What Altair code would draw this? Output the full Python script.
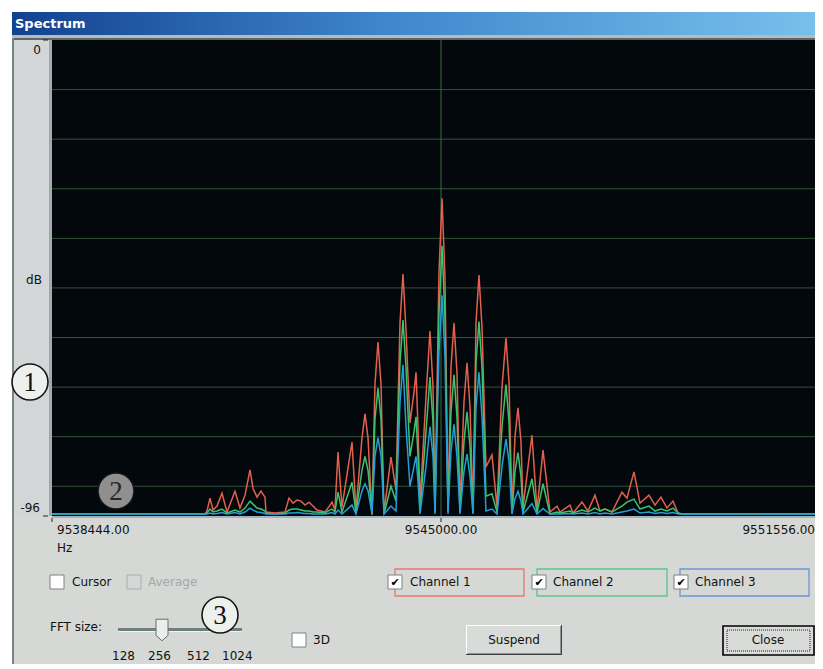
import altair as alt
import pandas as pd

# ---------------- data ----------------
freq_hz = [9538444, 9541022, 9541056, 9541107, 9541157, 9541225, 9541309, 9541393,
           9541528, 9541612, 9541697, 9541781, 9541831, 9541899, 9541966, 9542034,
           9542050, 9542202, 9542371, 9542438, 9542506, 9542573, 9542640, 9542708,
           9542775, 9542843, 9542910, 9543045, 9543095, 9543163, 9543213, 9543264,
           9543331, 9543500, 9543567, 9543668, 9543719, 9543770, 9543837, 9543887,
           9543938, 9543989, 9544039, 9544157, 9544241, 9544309, 9544359, 9544410,
           9544477, 9544545, 9544579, 9544612, 9544646, 9544747, 9544814, 9544865,
           9544899, 9544966, 9545017, 9545067, 9545118, 9545168, 9545219, 9545269,
           9545320, 9545387, 9545438, 9545489, 9545539, 9545590, 9545640, 9545691,
           9545758, 9545859, 9545944, 9546028, 9546095, 9546146, 9546196, 9546247,
           9546297, 9546348, 9546382, 9546533, 9546618, 9546719, 9546837, 9546955,
           9547005, 9547174, 9547224, 9547376, 9547477, 9547595, 9547679, 9547764,
           9547882, 9548050, 9548134, 9548252, 9548354, 9548505, 9548606, 9548707,
           9548809, 9548910, 9548994, 9549061, 9551556]

ch1_db = [-95.6, -95.6, -95.0, -92.4, -94.8, -94.0, -91.4, -95.2,
          -91.0, -94.4, -91.8, -86.7, -90.4, -92.2, -91.0, -92.2,
          -95.2, -95.4, -95.2, -92.4, -93.4, -92.8, -93.0, -93.8,
          -93.2, -94.0, -94.8, -95.2, -94.4, -93.2, -94.8, -83.1,
          -94.2, -81.1, -94.8, -80.3, -75.4, -80.3, -95.8, -69.4,
          -60.9, -69.4, -95.4, -84.1, -90.8, -57.0, -47.2, -58.5,
          -77.2, -71.0, -67.0, -78.0, -93.4, -72.0, -58.7, -70.0,
          -94.2, -47.0, -31.9, -48.0, -94.2, -66.0, -57.1, -67.0,
          -94.2, -73.0, -65.1, -74.0, -94.8, -57.0, -47.4, -58.0,
          -86.1, -83.7, -94.2, -70.0, -60.1, -69.0, -94.8, -80.0,
          -74.2, -81.0, -94.2, -79.7, -94.8, -82.7, -95.2, -94.0,
          -95.2, -93.8, -95.4, -93.2, -95.0, -91.8, -95.0, -94.6,
          -95.2, -91.2, -92.4, -87.1, -93.4, -91.8, -93.8, -92.2,
          -94.4, -93.0, -95.4, -95.6, -95.6]

ch2_db = [-95.6, -95.6, -95.4, -94.6, -95.2, -95.0, -94.6, -95.4,
          -94.8, -95.2, -94.4, -93.0, -93.6, -94.4, -94.6, -95.0,
          -95.4, -95.6, -95.4, -94.8, -94.6, -94.6, -94.8, -95.0,
          -95.0, -95.2, -95.2, -95.4, -95.0, -94.6, -95.2, -91.2,
          -95.2, -89.2, -95.4, -86.8, -84.0, -86.8, -95.6, -76.4,
          -70.2, -76.4, -95.6, -90.0, -93.0, -65.0, -56.5, -66.0,
          -84.0, -79.0, -76.0, -84.0, -95.0, -79.0, -68.0, -77.0,
          -95.2, -55.0, -41.5, -56.0, -95.2, -75.0, -67.5, -76.0,
          -95.2, -81.0, -75.0, -82.0, -95.4, -65.0, -56.8, -66.0,
          -92.0, -91.5, -95.2, -78.0, -69.5, -77.0, -95.4, -87.0,
          -83.2, -88.0, -95.2, -88.5, -95.4, -89.5, -95.6, -95.2,
          -95.4, -95.0, -95.4, -94.8, -95.2, -94.4, -95.0, -94.6,
          -95.2, -94.0, -93.2, -92.6, -94.6, -94.0, -95.0, -94.6,
          -95.0, -94.4, -95.4, -95.6, -95.6]

ch3_db = [-95.6, -95.6, -95.6, -95.4, -95.6, -95.5, -95.3, -95.6,
          -95.3, -95.6, -95.2, -94.4, -94.8, -95.2, -95.3, -95.5,
          -95.6, -95.6, -95.6, -95.4, -95.4, -95.3, -95.4, -95.5,
          -95.5, -95.6, -95.6, -95.6, -95.5, -95.3, -95.6, -94.8,
          -95.6, -93.8, -95.6, -90.9, -89.5, -90.9, -95.6, -83.9,
          -80.2, -83.9, -95.6, -94.0, -95.0, -73.0, -65.5, -78.0,
          -90.0, -86.0, -84.0, -89.0, -95.6, -86.0, -78.0, -84.0,
          -95.6, -63.0, -51.5, -64.0, -95.6, -83.0, -77.5, -84.0,
          -95.6, -87.0, -83.5, -88.0, -95.6, -74.0, -67.0, -76.0,
          -95.0, -94.6, -95.6, -86.0, -80.5, -85.0, -95.6, -92.5,
          -91.0, -93.0, -95.6, -93.5, -95.6, -94.5, -95.6, -95.6,
          -95.6, -95.5, -95.6, -95.4, -95.6, -95.3, -95.6, -95.4,
          -95.6, -95.2, -95.0, -94.6, -95.4, -95.2, -95.5, -95.3,
          -95.5, -95.3, -95.6, -95.6, -95.6]

grid_db = [-10, -20, -30, -40, -50, -60, -70, -80, -90]
center_hz = [9545000]
x_tick_hz = [9538444, 9545000, 9551556]
x_tick_labels = ["9538444.00", "9545000.00", "9551556.00"]
y_tick_db = [0, -96]
y_tick_labels = ["0", "-96"]
channel_names = ["Channel 1", "Channel 2", "Channel 3"]
fft_sizes = ["128", "256", "512", "1024"]

# ---------------- styles / layout ----------------
W, H = 763, 476
X_MIN, X_MAX = 9538444, 9551303
FONT = "DejaVu Sans"
GREY = "#d5d8d5"
LINE_COLORS = ["#e2604e", "#3cc46c", "#249ed8"]
FRAME_COLORS = ["#e27a6a", "#5cc486", "#6c96d2"]

xs = alt.Scale(domain=[X_MIN, X_MAX], nice=False, zero=False)
ys = alt.Scale(domain=[-96, 0], nice=False, zero=False)
one = pd.DataFrame({"k": [0]})


def rect(x, x2, y, y2, fill=None, stroke=None, sw=1.0, dash=None):
    kw = {}
    if fill is not None:
        kw["fill"] = fill
    else:
        kw["fillOpacity"] = 0
    if stroke is not None:
        kw["stroke"] = stroke
        kw["strokeWidth"] = sw
    if dash is not None:
        kw["strokeDash"] = dash
    return alt.Chart(one).mark_rect(**kw).encode(
        x=alt.value(x), x2=alt.value(x2), y=alt.value(y), y2=alt.value(y2))


def rule(x, x2, y, y2, color, sw=1.0):
    return alt.Chart(one).mark_rule(color=color, strokeWidth=sw).encode(
        x=alt.value(x), x2=alt.value(x2), y=alt.value(y), y2=alt.value(y2))


def label(text, x, y, size=12, color="#111111", align="left", font=FONT, weight="normal"):
    return alt.Chart(one).mark_text(
        text=text, align=align, baseline="middle", fontSize=size, font=font,
        color=color, fontWeight=weight).encode(x=alt.value(x), y=alt.value(y))


def circle(cx, cy, fill, num, txt_color="#111111"):
    c = alt.Chart(one).mark_point(
        shape="circle", size=1296, filled=True, fill=fill, stroke="#151515",
        strokeWidth=1.6, opacity=1).encode(x=alt.value(cx), y=alt.value(cy))
    t = label(num, cx, cy + 1, size=27, color=txt_color, align="center",
              font="Liberation Serif")
    return [c, t]


def checkbox(x, y, checked=True, enabled=True):
    out = [rect(x, x + 14, y, y + 14, fill="#ffffff" if enabled else GREY,
                stroke="#7b8282" if enabled else "#a9aeae")]
    if checked:
        out.append(label("\u2714", x + 7, y + 7.5, size=11, color="#000000", align="center"))
    return out


layers = []
# window chrome
layers.append(rect(-40, 790, -28, 660, fill=GREY))
layers.append(rect(-40, -38, -5, 660, fill="#7a8383"))
layers.append(alt.Chart(one).mark_rect(fill={
    "gradient": "linear", "x1": 0, "x2": 1, "y1": 0, "y2": 0,
    "stops": [{"offset": 0, "color": "#12418f"}, {"offset": 0.45, "color": "#3f86cc"},
              {"offset": 1, "color": "#7cc3ee"}]}).encode(
    x=alt.value(-40), x2=alt.value(790), y=alt.value(-28), y2=alt.value(-5)))
layers.append(label("Spectrum", -37, -16, size=13, color="#ffffff", weight="bold"))
layers.append(rect(-40, 790, -5, -2, fill="#b4bcbc"))
layers.append(rect(-38, 790, -2, 0, fill="#5d6767"))
layers.append(rect(-38, -3, 0, 476, fill="#d2d6d6"))
layers.append(rect(-3, 0, 0, 476, fill="#a2aaaa"))
# plot area
layers.append(rect(0, 790, 0, 476, fill="#02080b"))
layers.append(rect(0, 790, 476, 478, fill="#9fb4bf"))

grid_df = pd.DataFrame({"db": grid_db})
layers.append(alt.Chart(grid_df).mark_rule(color="#34523a", strokeWidth=1).encode(
    y=alt.Y("db:Q", scale=ys, axis=None), x=alt.value(0), x2=alt.value(790)))
layers.append(alt.Chart(pd.DataFrame({"hz": center_hz})).mark_rule(
    color="#3e6a3e", strokeWidth=1).encode(
    x=alt.X("hz:Q", scale=xs, axis=None), y=alt.value(0), y2=alt.value(476)))

for name, vals, col in zip(channel_names, [ch1_db, ch2_db, ch3_db], LINE_COLORS):
    df = pd.DataFrame({"hz": freq_hz, "db": vals, "channel": name})
    layers.append(alt.Chart(df).mark_line(color=col, strokeWidth=1.5, clip=True).encode(
        x=alt.X("hz:Q", scale=xs, axis=None),
        y=alt.Y("db:Q", scale=ys, axis=None),
        order="hz:Q"))

# y axis labels and ticks
ytick_df = pd.DataFrame({"db": y_tick_db, "label": y_tick_labels})
layers.append(alt.Chart(ytick_df).mark_rule(color="#222222").encode(
    y=alt.Y("db:Q", scale=ys, axis=None), x=alt.value(-9), x2=alt.value(-4)))
layers.append(alt.Chart(ytick_df[ytick_df.db == 0]).mark_text(
    align="right", baseline="middle", dy=10, fontSize=12, font=FONT, color="#111111").encode(
    y=alt.Y("db:Q", scale=ys, axis=None), x=alt.value(-11), text="label:N"))
layers.append(alt.Chart(ytick_df[ytick_df.db == -96]).mark_text(
    align="right", baseline="middle", dy=-8, fontSize=12, font=FONT, color="#111111").encode(
    y=alt.Y("db:Q", scale=ys, axis=None), x=alt.value(-12), text="label:N"))
layers.append(label("dB", -18, 240, size=12, align="center"))

# x axis labels and ticks
xtick_df = pd.DataFrame({"hz": x_tick_hz, "label": x_tick_labels})
layers.append(alt.Chart(xtick_df.iloc[:2]).mark_rule(color="#222222").encode(
    x=alt.X("hz:Q", scale=xs, axis=None), y=alt.value(478), y2=alt.value(482)))
for i, (al, dx) in enumerate([("left", 5), ("center", 0), ("right", -15)]):
    layers.append(alt.Chart(xtick_df.iloc[[i]]).mark_text(
        align=al, baseline="middle", dx=dx, fontSize=12, font=FONT, color="#111111").encode(
        x=alt.X("hz:Q", scale=xs, axis=None), y=alt.value(490), text="label:N"))
layers.append(label("Hz", 5, 508))

# numbered callouts
layers += circle(-22, 342, "#eef0ee", "1")
layers += circle(64, 451, "#8e8f8e", "2", txt_color="#262626")

# check boxes
layers += checkbox(-2, 535, checked=False)
layers.append(label("Cursor", 20, 542))
layers += checkbox(75, 535, checked=False, enabled=False)
layers.append(label("Average", 96, 542, color="#a4a9a9"))

frames = [(343, 472, 336, 358), (485, 615, 480, 501), (628, 757, 622, 643)]
for (fx, fx2, bx, lx), fc, name in zip(frames, FRAME_COLORS, channel_names):
    layers.append(rect(fx, fx2, 529, 556, stroke=fc, sw=1.3))
    layers += checkbox(bx, 535, checked=True)
    layers.append(label(name, lx, 542))

# FFT slider
layers.append(label("FFT size:", -2, 587))
layers.append(rect(66, 190, 588, 591, fill="#6d7f7f"))
layers.append(rect(66, 190, 591, 592, fill="#f2f4f4"))
layers.append(alt.Chart(one).mark_point(
    shape="M-1,-1.8L1,-1.8L1,0.9L0,1.8L-1,0.9Z", size=144, filled=True,
    fill="#eceeec", stroke="#667070", strokeWidth=1, opacity=1).encode(
    x=alt.value(110), y=alt.value(590)))
for txt, x in zip(fft_sizes, [60, 96, 135, 170]):
    layers.append(label(txt, x, 616))
layers += circle(168, 575, "#eef0ee", "3")

# 3D checkbox
layers += checkbox(240, 593, checked=False)
layers.append(label("3D", 261, 600))

# buttons
layers.append(rect(414, 510, 585, 615, fill="#d8dbd8"))
layers.append(rule(414, 510, 585.5, 585.5, "#ffffff"))
layers.append(rule(414.5, 414.5, 585, 615, "#ffffff"))
layers.append(rule(414, 510, 614.5, 614.5, "#3e4444"))
layers.append(rule(509.5, 509.5, 585, 615, "#3e4444"))
layers.append(rule(415, 509, 613.5, 613.5, "#8c9494"))
layers.append(rule(508.5, 508.5, 586, 614, "#8c9494"))
layers.append(label("Suspend", 462, 600, align="center"))

layers.append(rect(671, 762, 586, 615, fill="#d8dbd8", stroke="#000000", sw=1.6))
layers.append(rect(675, 758, 590, 611, stroke="#222222", sw=1, dash=[1, 1]))
layers.append(label("Close", 716, 600, align="center"))

chart = alt.layer(*layers).properties(
    width=W, height=H,
    padding={"left": 44, "top": 32, "right": 0, "bottom": 148},
    autosize=alt.AutoSizeParams(type="none"),
    background="#ffffff",
).configure_view(stroke=None)

chart.save("out.html", embed_options={"renderer": "svg", "actions": False})
